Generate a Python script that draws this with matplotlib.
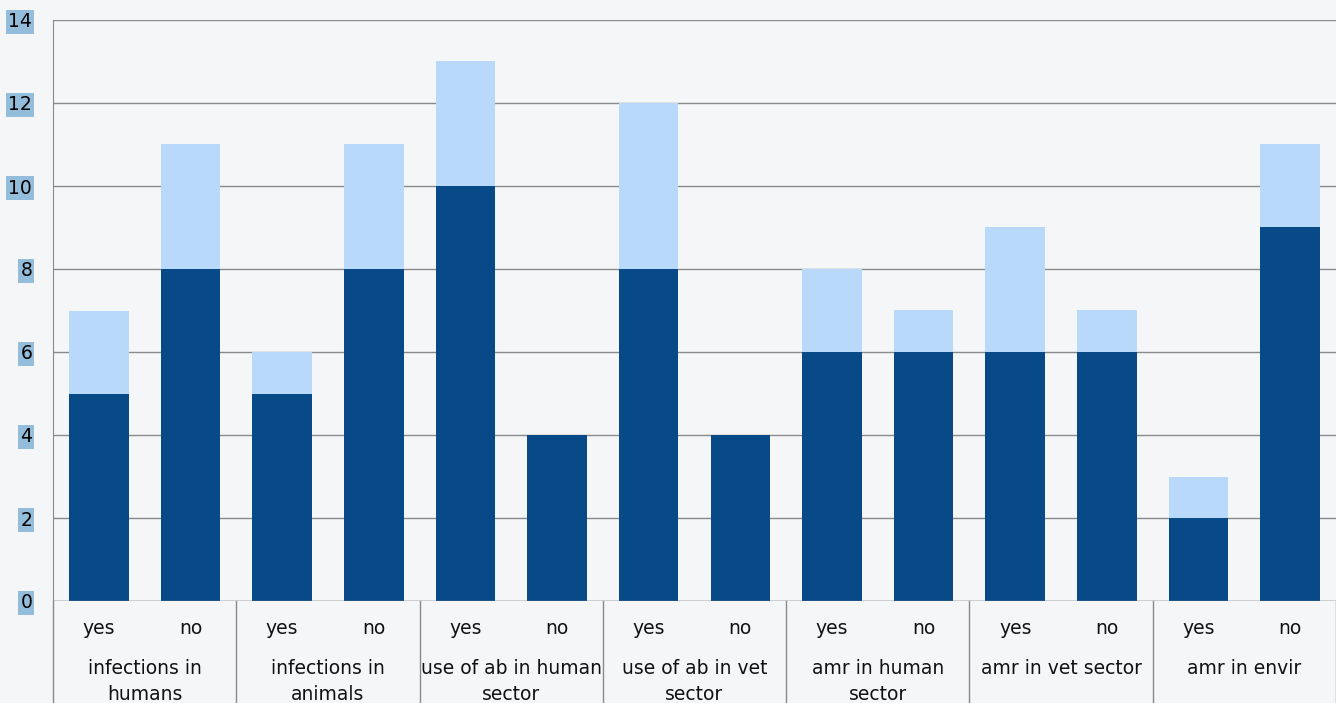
import matplotlib
matplotlib.use("Agg")
import matplotlib.pyplot as plt
import matplotlib.transforms as mtransforms

groups = ["infections in\nhumans", "infections in\nanimals", "use of ab in human\nsector",
          "use of ab in vet\nsector", "amr in human\nsector", "amr in vet sector", "amr in envir"]
answers = ["yes", "no"]
dark_vals = [5, 8, 5, 8, 10, 4, 8, 4, 6, 6, 6, 6, 2, 9]
light_vals = [2, 3, 1, 3, 3, 0, 4, 0, 2, 1, 3, 1, 1, 2]
y_ticks = [0, 2, 4, 6, 8, 10, 12, 14]

dark = "#084a87"
light = "#b8d9f9"
bg = "#f4f6f8"

fig = plt.figure(figsize=(13.36, 7.03), dpi=100)
fig.patch.set_facecolor(bg)
ax = fig.add_axes([53 / 1336, 102 / 703, 1 - 53 / 1336, 581 / 703])
ax.set_facecolor(bg)

x = [i + 0.5 for i in range(len(dark_vals))]
ax.bar(x, dark_vals, width=0.65, color=dark, zorder=3)
ax.bar(x, light_vals, width=0.65, bottom=dark_vals, color=light, zorder=3)

ax.set_xlim(0, len(dark_vals))
ax.set_ylim(0, 14)
ax.set_yticks(y_ticks)
ax.grid(axis="y", color="#8a8a8a", linewidth=1, zorder=1)
ax.set_xticks([])
for side in ["top", "right", "bottom"]:
    ax.spines[side].set_visible(False)
ax.spines["left"].set_color("#8a8a8a")
ax.axhline(0, color="#8a8a8a", linewidth=1, zorder=4)
ax.tick_params(axis="y", length=0, pad=15, labelsize=13.5)
for lab in ax.get_yticklabels():
    lab.set_bbox(dict(facecolor="#94bcdb", edgecolor="none", pad=1.5))

trans = mtransforms.blended_transform_factory(ax.transData, ax.transAxes)
for i, xi in enumerate(x):
    ax.text(xi, -0.047, answers[i % 2], transform=trans, ha="center", va="center",
            fontsize=13.5, color="#111111")
for g, name in enumerate(groups):
    ax.text(2 * g + 1, -0.1, name, transform=trans, ha="center", va="top",
            fontsize=13.5, color="#111111", linespacing=1.45)
for b in range(0, len(dark_vals) + 1, 2):
    ax.plot([b, b], [0, -0.18], transform=trans, color="#8a8a8a", linewidth=1,
            clip_on=False)

fig.savefig("out.png", dpi=100, facecolor=bg)
